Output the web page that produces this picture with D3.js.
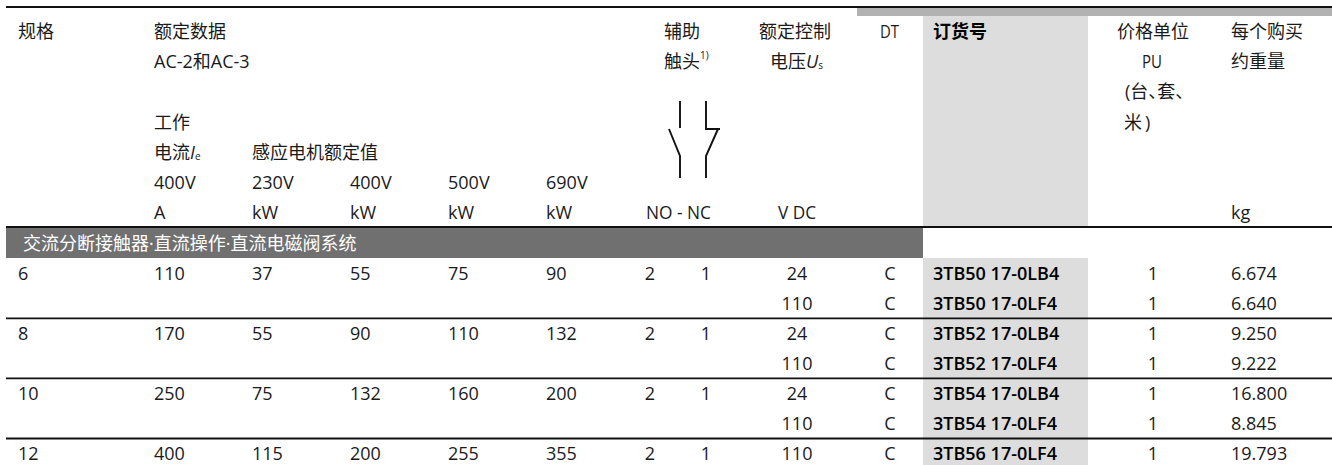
<!DOCTYPE html>
<html><head><meta charset="utf-8">
<script src="https://cdnjs.cloudflare.com/ajax/libs/d3/7.8.5/d3.min.js"></script>
<style>
html,body{margin:0;padding:0;background:#fff;overflow:hidden}
text{font-family:"Open Sans","Noto Sans CJK SC",sans-serif;font-size:18px;fill:#1a1a1a;dominant-baseline:central}
.b{font-weight:600;fill:#000}
</style></head><body>
<svg id="c" width="1332" height="465"></svg>
<script>
// ---- data ----
const sizes    = ["6","","8","","10","","12"];
const current  = ["110","","170","","250","","400"];
const kw230    = ["37","","55","","75","","115"];
const kw400    = ["55","","90","","132","","200"];
const kw500    = ["75","","110","","160","","255"];
const kw690    = ["90","","132","","200","","355"];
const no       = ["2","","2","","2","","2"];
const nc       = ["1","","1","","1","","1"];
const voltage  = ["24","110","24","110","24","110","110"];
const dt       = ["C","C","C","C","C","C","C"];
const orderNo  = ["3TB50 17-0LB4","3TB50 17-0LF4","3TB52 17-0LB4","3TB52 17-0LF4","3TB54 17-0LB4","3TB54 17-0LF4","3TB56 17-0LF4"];
const pu       = ["1","1","1","1","1","1","1"];
const weight   = ["6.674","6.640","9.250","9.222","16.800","8.845","19.793"];
const sectionTitle = "交流分断接触器·直流操作·直流电磁阀系统";
const separatorsAfter = [1,3,5];

// ---- layout ----
const W=1332;
const svg=d3.select("#c");
const rowIdx=d3.range(sizes.length);
const yRow=d3.scalePoint().domain(rowIdx).range([272.7,453]);
const yHead=d3.scalePoint().domain(d3.range(7)).range([31,212]);
const cols=[
 {v:sizes,x:18,a:"start"},{v:current,x:154,a:"start"},{v:kw230,x:252,a:"start"},
 {v:kw400,x:350,a:"start"},{v:kw500,x:448,a:"start"},{v:kw690,x:546,a:"start"},
 {v:no,x:650,a:"middle"},{v:nc,x:706,a:"middle"},{v:voltage,x:797,a:"middle"},
 {v:dt,x:890,a:"middle"},{v:orderNo,x:933,a:"start",c:"b"},{v:pu,x:1153,a:"middle"},
 {v:weight,x:1231,a:"start"}
];

// backgrounds
svg.append("rect").attr("x",857).attr("y",8).attr("width",W-857).attr("height",8).attr("fill","#b2b2b2");
svg.append("rect").attr("x",923).attr("y",16).attr("width",165).attr("height",211).attr("fill","#dcdddc");
svg.append("rect").attr("x",923).attr("y",258).attr("width",165).attr("height",207).attr("fill","#dcdddc");
svg.append("rect").attr("x",6).attr("y",228).attr("width",917).attr("height",30).attr("fill","#707070");

// rules
const rule=(y,w)=>svg.append("line").attr("x1",6).attr("x2",W).attr("y1",y).attr("y2",y).attr("stroke","#111").attr("stroke-width",w);
rule(7,1.8);rule(227,1.8);
separatorsAfter.forEach(i=>rule((yRow(i)+yRow(i+1))/2+0.5,1.8));

// header
const head=[
 [18,0,"规格"],[154,0,"额定数据"],[154,1,"AC-2和AC-3"],[154,3,"工作"],[252,4,"感应电机额定值"],
 [154,5,"400V"],[252,5,"230V"],[350,5,"400V"],[448,5,"500V"],[546,5,"690V"],
 [154,6,"A"],[252,6,"kW"],[350,6,"kW"],[448,6,"kW"],[546,6,"kW"],
 [664,0,"辅助"],[759,0,"额定控制"],[880,0,"DT",19],[1117,0,"价格单位"],[1231,0,"每个购买"],[1231,1,"约重量"],
 [1142,1,"PU",20],[646,6,"NO - NC",65],[778,6,"V DC",38],[1231,6,"kg"]
];
svg.append("g").selectAll("text").data(head).join("text")
 .attr("x",d=>d[0]).attr("y",d=>yHead(d[1])).text(d=>d[2])
 .each(function(d){ if(d[3]) d3.select(this).attr("textLength",d[3]).attr("lengthAdjust","spacingAndGlyphs"); });
svg.append("text").attr("class","b").attr("x",933).attr("y",yHead(0)).text("订货号");

// rich header cells
const t1=svg.append("text").attr("x",154).attr("y",yHead(4));
t1.append("tspan").text("电流");
t1.append("tspan").attr("font-style","italic").text("I");
t1.append("tspan").attr("dy",4).style("font-size","10px").text("e");
const t2=svg.append("text").attr("x",664).attr("y",yHead(1));
t2.append("tspan").text("触头");
t2.append("tspan").attr("dy",-6).style("font-size","10px").text("1)");
const t3=svg.append("text").attr("x",770).attr("y",yHead(1));
t3.append("tspan").text("电压");
t3.append("tspan").attr("font-style","italic").text("U");
t3.append("tspan").attr("dy",4).style("font-size","10px").text("s");
svg.append("text").attr("x",1125).attr("y",yHead(2)).style("font-feature-settings",'"palt"').text("(台、套、");
const t5=svg.append("text").attr("x",1124).attr("y",yHead(3));
t5.append("tspan").text("米");
t5.append("tspan").attr("dx",3).text(")");

// section band title
svg.append("text").attr("x",23).attr("y",243).style("fill","#fff").text(sectionTitle);

// contact symbol
const line=d3.line();
const sym=svg.append("g").attr("transform","translate(680,101)").attr("fill","none").attr("stroke","#111").attr("stroke-width",1.9);
[[[0,0],[0,27]],[[-11,28],[0,55],[0,77]],[[26,0],[26,28],[40,28]],[[38,28],[26,55],[26,77]]]
 .forEach(p=>sym.append("path").attr("d",line(p)));

// body
cols.forEach(c=>{
 svg.append("g").selectAll("text").data(rowIdx.filter(i=>c.v[i]!=="")).join("text")
  .attr("class",c.c||null).attr("x",c.x).attr("y",i=>yRow(i)).attr("text-anchor",c.a).text(i=>c.v[i]);
});
</script></body></html>
